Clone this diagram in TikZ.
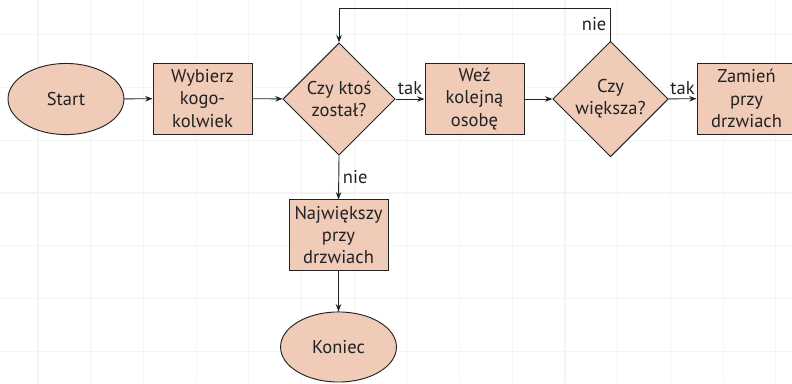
\documentclass[tikz,border=0pt]{standalone}
\usepackage{fontspec}
\setmainfont{PT Sans}
\usetikzlibrary{shapes.geometric,arrows.meta,calc}
\definecolor{peach}{RGB}{239,203,184}
\definecolor{ink}{RGB}{34,34,34}
\definecolor{gridc}{RGB}{244,244,244}
\tikzset{
  base/.style={draw=ink, fill=peach, line width=0.5pt, text=ink, font=\fontsize{10}{12}\selectfont, align=center},
  term/.style={base, ellipse, minimum width=2.2cm, minimum height=1.35cm, inner sep=0pt},
  proc/.style={base, rectangle, minimum width=1.88cm, minimum height=1.35cm, inner sep=0pt, text width=1.8cm},
  decision/.style={base, diamond, aspect=1, inner sep=0pt},
  dlabel/.style={text=ink, font=\fontsize{10}{12}\selectfont, align=center},
  conn/.style={draw=ink, line width=0.5pt, -{Stealth[length=4pt,width=3pt]}},
  lbl/.style={text=ink, font=\fontsize{10}{12}\selectfont, inner sep=2pt}
}
\begin{document}
\begin{tikzpicture}
\useasboundingbox (0,0) rectangle (15.028,-7.268);
\clip (0,0) rectangle (15.028,-7.268);
% faint background grid
\foreach \gx in {0.721,1.721,...,15.0} {\draw[gridc, line width=0.6pt] (\gx,0) -- (\gx,-7.268);}
\foreach \gy in {-0.662,-1.662,...,-7.2} {\draw[gridc, line width=0.6pt] (0,\gy) -- (15.028,\gy);}

\node[term] (start) at (1.252,-1.879) {Start};
\node[proc] (wyb) at (3.843,-1.87) {Wybierz\\kogo-\\kolwiek};
\node[decision, minimum size=2.13cm] (d1) at (6.433,-1.879) {};
\node[dlabel] (d1t) at (d1.center) {Czy ktoś\\został?};
\node[proc] (wez) at (9.004,-1.879) {Weź\\kolejną\\osobę};
\node[decision, minimum size=2.19cm] (d2) at (11.585,-1.879) {};
\node[dlabel] (d2t) at (d2.center) {Czy\\większa?};
\node[proc] (zam) at (14.165,-1.87) {Zamień\\przy\\drzwiach};
\node[proc, minimum height=1.33cm] (naj) at (6.423,-4.459) {Największy\\przy\\drzwiach};
\node[term, minimum height=1.33cm] (kon) at (6.423,-6.584) {Koniec};
\coordinate (top) at (6.433,-0.152);

\draw[conn] (start) -- (wyb);
\draw[conn] (wyb) -- (d1);
\draw[conn] (d1) -- node[lbl, above] {tak} (wez);
\draw[conn] (wez) -- (d2);
\draw[conn] (d2) -- node[lbl, above] {tak} (zam);
\draw[conn] (d1.south) -- node[lbl, right] {nie} (naj.north);
\draw[conn] (naj) -- (kon);
\draw[conn] (d2.north) -- node[lbl, left] {nie} (d2.north |- top) -- (top) -- (d1.north);
\end{tikzpicture}
\end{document}
